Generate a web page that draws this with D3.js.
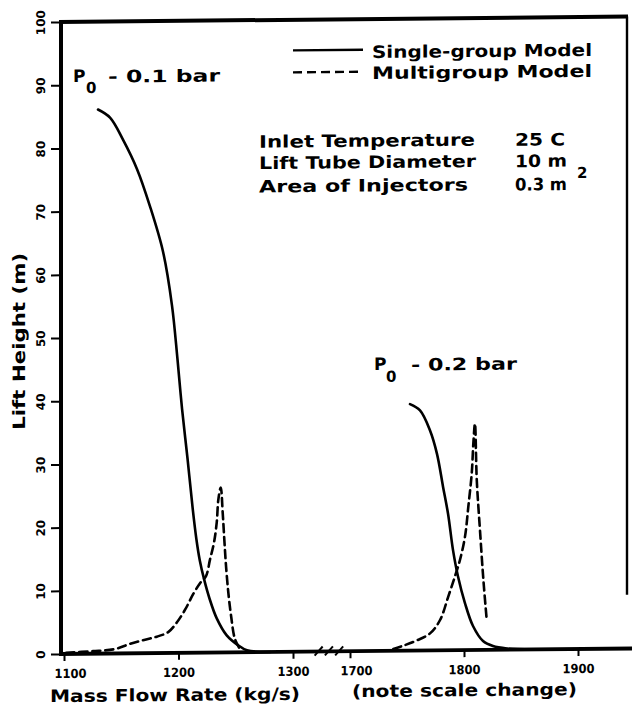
<!DOCTYPE html>
<html><head><meta charset="utf-8">
<script src="https://cdn.jsdelivr.net/npm/d3@7"></script>
<style>body{margin:0;background:#fff}svg{display:block}</style>
</head><body>
<svg id="chart" width="632" height="705"></svg>
<script>
// ---- data ----
const xTickValues = [1100, 1200, 1300, 1700, 1800, 1900];
const yTickValues = [0, 10, 20, 30, 40, 50, 60, 70, 80, 90, 100];

// P0 = 0.1 bar
const singleP01 = [[1129.7,86.1],[1140.2,84.8],[1151.5,81.3],[1163.8,76.6],[1175.1,70.7],[1186.5,63.5],[1194.3,55.0],[1199.1,46.5],[1203.1,38.6],[1207.9,30.7],[1212.4,22.8],[1215.6,18.0],[1218.6,14.6],[1222.5,11.5],[1227.0,8.6],[1233.4,5.4],[1242.1,2.7],[1252.2,1.1],[1259.8,0.3],[1280,0]];
const multiP01 = [[1102,0.2],[1125,0.4],[1144.5,0.7],[1157.6,1.5],[1170,2.1],[1181,2.6],[1191,3.3],[1198.5,4.8],[1206,6.9],[1212.9,9.3],[1218.8,11.0],[1224.0,12.1],[1227.5,14.7],[1231.0,17.4],[1233.4,20.6],[1234.8,24.2],[1236.9,26.1],[1238.6,22.1],[1240.0,17.9],[1241.5,13.7],[1243.5,9.5],[1245.9,5.8],[1249.3,2.1],[1253.7,0.5]];
// P0 = 0.2 bar
const singleP02 = [[1752.6,39.0],[1761.4,38.0],[1770.2,34.8],[1776.3,31.1],[1781.6,25.9],[1786.0,21.6],[1790.4,15.8],[1794.7,11.7],[1800.9,7.4],[1807.9,3.8],[1816.7,1.4],[1825.4,0.6],[1837.7,0.2],[1860,0]];
const multiP02 = [[1738,0.3],[1746.8,0.8],[1758.5,1.6],[1770.2,2.7],[1779.0,4.8],[1786.2,8.5],[1792.1,11.7],[1796.5,14.3],[1800.9,18.0],[1803.8,22.7],[1806.8,28.0],[1808.2,32.7],[1809.6,35.8],[1811.2,26.9],[1814.0,19.0],[1817.0,11.1],[1819.9,4.8]];

const legendLabels = ["Single-group Model", "Multigroup Model"];
const paramNames = ["Inlet Temperature", "Lift Tube Diameter", "Area of Injectors"];
const paramValues = ["25 C", "10 m", "0.3 m"];

// ---- scales ----
const x = d3.scaleLinear().domain([1100, 1300, 1700, 1900]).range([64, 293, 350, 578]);
const y = d3.scaleLinear().domain([0, 100]).range([654, 22]);

const FONT = "'DejaVu Sans', sans-serif";
const svg = d3.select("#chart");
const g = svg.append("g").attr("transform", "translate(0,0.58) skewY(-0.55)");

// ---- frame ----
g.append("line").attr("x1", 59).attr("x2", 628).attr("y1", y(100)).attr("y2", y(100)).attr("stroke", "#000").attr("stroke-width", 4);
g.append("line").attr("x1", 61).attr("x2", 61).attr("y1", y(100) - 2).attr("y2", y(0) + 2).attr("stroke", "#000").attr("stroke-width", 4);
g.append("line").attr("x1", 59).attr("x2", 634).attr("y1", y(0)).attr("y2", y(0)).attr("stroke", "#000").attr("stroke-width", 3.8);
g.append("line").attr("x1", 627).attr("x2", 627).attr("y1", y(100)).attr("y2", y(8.5)).attr("stroke", "#000").attr("stroke-width", 2.4);

// break marks on x axis
const gap0 = x(1300), gap1 = x(1700);
[0.45, 0.63, 0.81].forEach(f => {
  const cx = gap0 + (gap1 - gap0) * f;
  g.append("line").attr("x1", cx - 4).attr("x2", cx + 4).attr("y1", y(0) + 4).attr("y2", y(0) - 5)
    .attr("stroke", "#000").attr("stroke-width", 2);
});

// ---- axes ----
const gx = g.append("g").attr("transform", `translate(0,${y(0)})`)
  .call(d3.axisBottom(x).tickValues(xTickValues).tickSize(7).tickFormat(d3.format("d")));
gx.select(".domain").remove();
gx.selectAll(".tick line").attr("stroke", "#000").attr("stroke-width", 2);
gx.selectAll(".tick text").attr("font-family", FONT).attr("font-weight", "bold").attr("font-size", 12.5)
  .attr("fill", "#000").attr("y", 24).attr("dy", 0)
  .attr("dx", d => (d === 1100 || d === 1700) ? 6 : 0)
  .attr("textLength", 32).attr("lengthAdjust", "spacingAndGlyphs");

const gy = g.append("g").attr("transform", "translate(61,0)")
  .call(d3.axisLeft(y).tickValues(yTickValues).tickSize(10).tickFormat(d3.format("d")));
gy.select(".domain").remove();
gy.selectAll(".tick line").attr("stroke", "#000").attr("stroke-width", 2);
gy.selectAll(".tick text").attr("font-family", FONT).attr("font-weight", "bold").attr("font-size", 12)
  .attr("fill", "#000").attr("transform", "rotate(-90)").attr("x", 0).attr("y", -16).attr("dy", 0)
  .attr("text-anchor", "middle");

// ---- curves ----
const line = d3.line().x(d => x(d[0])).y(d => y(d[1])).curve(d3.curveCatmullRom.alpha(0.5));
function curve(data, dashed) {
  g.append("path").datum(data).attr("d", line).attr("fill", "none").attr("stroke", "#000")
    .attr("stroke-width", 2.6).attr("stroke-linecap", "round")
    .attr("stroke-dasharray", dashed ? "8,5" : null);
}
curve(singleP01, false);
curve(multiP01, true);
curve(singleP02, false);
curve(multiP02, true);

// ---- texts ----
function txt(str, tx, ty, size, len) {
  const t = g.append("text").attr("x", tx).attr("y", ty).attr("font-family", FONT)
    .attr("font-weight", "bold").attr("font-size", size).attr("fill", "#000").text(str);
  if (len) t.attr("textLength", len).attr("lengthAdjust", "spacingAndGlyphs");
  return t;
}

// legend
g.append("line").attr("x1", 293).attr("x2", 363).attr("y1", 52.6).attr("y2", 52.6).attr("stroke", "#000").attr("stroke-width", 2.4);
g.append("line").attr("x1", 293).attr("x2", 363).attr("y1", 74.6).attr("y2", 74.6).attr("stroke", "#000").attr("stroke-width", 2.4).attr("stroke-dasharray", "9,5");
txt(legendLabels[0], 372, 61, 17, 220);
txt(legendLabels[1], 372, 82, 17, 220);

// parameters
const pY = [149.6, 171, 194.4];
const pLen = [216, 217, 209];
paramNames.forEach((s, i) => txt(s, 259, pY[i], 17, pLen[i]));
const vLen = [50, 52, 52];
paramValues.forEach((s, i) => txt(s, 515, pY[i] + 0.5, 17, vLen[i]));
txt("2", 577, 183, 15);

// P0 labels
txt("P", 73, 82.2, 17);
txt("0", 86, 93.3, 15);
txt("- 0.1 bar", 108, 83, 17, 112);
txt("P", 374, 373, 17);
txt("0", 386, 385, 15);
txt("- 0.2 bar", 411, 374, 17, 106);

// axis titles
txt("Mass Flow Rate (kg/s)", 50, 702, 17, 250);
txt("(note scale change)", 352, 700, 17, 225);
g.append("text").attr("transform", "translate(25,341) rotate(-90)").attr("text-anchor", "middle")
  .attr("font-family", FONT).attr("font-weight", "bold").attr("font-size", 17).attr("fill", "#000")
  .attr("textLength", 177).attr("lengthAdjust", "spacingAndGlyphs").text("Lift Height (m)");
</script>
</body></html>
